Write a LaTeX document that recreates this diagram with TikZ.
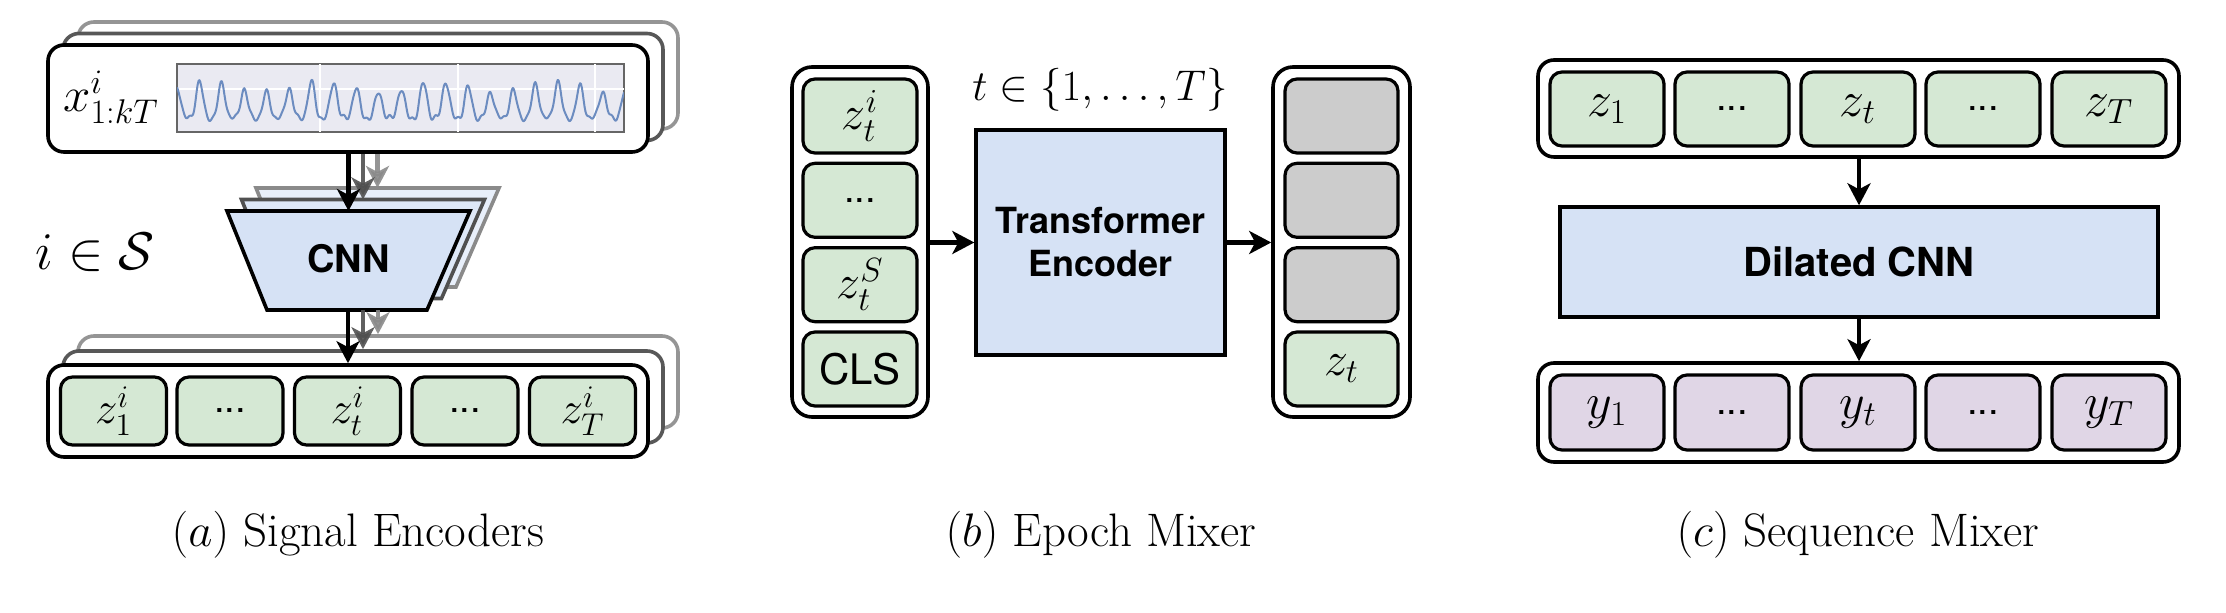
\RequirePackage{fix-cm}
\documentclass[tikz,border=0pt]{standalone}
\usepackage{fontspec}
\newfontfamily\hv{TeX Gyre Heros}
\usetikzlibrary{arrows.meta}
\definecolor{gfill}{HTML}{D5E8D4}
\definecolor{bfill}{HTML}{D6E2F5}
\definecolor{pfill}{HTML}{E0D6E6}
\definecolor{cgray}{HTML}{CCCCCC}
\definecolor{plotbg}{HTML}{EAEAF2}
\definecolor{sigblue}{HTML}{6C8CC0}
\definecolor{layA}{HTML}{505050}
\definecolor{layB}{HTML}{8A8A8A}
\begin{document}
\begin{tikzpicture}[x=0.5pt, y=-0.5pt,
  outerbox/.style={draw, line width=1.8pt, rounded corners=8pt, fill=white, inner sep=0pt},
  cellbox/.style={draw, line width=1.6pt, rounded corners=6pt, inner sep=0pt},
  arr/.style={line width=2.4pt, -{Stealth[length=11pt, width=11.5pt, inset=3pt]}},
  trapline/.style={line width=1.8pt, line join=miter},
  sfbold/.style={font=\hv\bfseries\fontsize{18}{21.5}\selectfont},
  mlab/.style={font=\fontsize{22.5}{26}\selectfont},
  mlabb/.style={font=\fontsize{24}{28}\selectfont},
  mlabc/.style={font=\fontsize{25}{29}\selectfont},
  dots/.style={font=\hv\fontsize{19}{22}\selectfont},
  capt/.style={font=\fontsize{23.5}{28}\selectfont, anchor=base}
]
\useasboundingbox (0,0) rectangle (2226,613);

% ================= (a) Signal Encoders =================
% top stack
\node[outerbox, draw=layB, draw opacity=0.9, minimum width=300pt, minimum height=53.5pt] (top3) at (378,75.5) {};
\node[outerbox, draw=layA, draw opacity=0.95, minimum width=300pt, minimum height=53.5pt] (top2) at (363,87) {};
\node[outerbox, minimum width=300pt, minimum height=53.5pt] (topF) at (348,98.5) {};
% signal plot
\node[draw=black!60, line width=0.6pt, fill=plotbg, minimum width=223.5pt, minimum height=34pt, inner sep=0pt] (plot) at (400.5,98) {};
\begin{scope}
  \clip (plot.south west) rectangle (plot.north east);
  \foreach \gx in {320,458,595} \draw[white, line width=0.7pt] (\gx,64) -- (\gx,132);
  \draw[white, line width=0.7pt] (177,89) -- (624,89);
  \draw[sigblue, line width=1pt, line join=round]
    plot[domain=0:447, samples=500]
    (177+\x, {118 - 37*(1+sin(16.07*\x+90))*(1+sin(16.07*\x+90))/4*(0.85+0.15*sin(3.1*\x)) + 1.8*sin(mod(30*\x,360)+mod(17*\x,360)) + 1.4*sin(23*\x+40)});
\end{scope}
\draw[black!60, line width=0.6pt] (plot.south west) rectangle (plot.north east);
\node[font=\fontsize{24.5}{28}\selectfont] (xlab) at (111,97) {$x^i_{1:kT}$};

% CNN layers (trapezoids)
\draw[trapline, draw=layB, fill=bfill!55] (256,188) -- (499,188) -- (456,287) -- (296,287) -- cycle;
\draw[trapline, draw=layA, fill=bfill!80] (241.5,199.5) -- (484.5,199.5) -- (441.5,298.5) -- (281.5,298.5) -- cycle;
\draw[trapline, fill=bfill] (227,211) -- (470,211) -- (427,310) -- (267,310) -- cycle;
\coordinate (cnn3N) at (377.5,188);
\coordinate (cnn2N) at (363,199.5);
\coordinate (cnnN) at (348.5,211);
\coordinate (cnnS) at (348.5,310);
\node[font=\hv\bfseries\fontsize{19}{22}\selectfont] (cnn) at (348.5,259) {CNN};

\node[font=\fontsize{26.5}{30}\selectfont] (iset) at (95,252) {$i\in\mathcal{S}$};

% bottom stack
\node[outerbox, draw=layB, draw opacity=0.9, minimum width=300pt, minimum height=46pt] (bot3) at (378,382) {};
\node[outerbox, draw=layA, draw opacity=0.95, minimum width=300pt, minimum height=46pt] (bot2) at (363,397) {};
\node[outerbox, minimum width=300pt, minimum height=46pt] (botF) at (348,411) {};
\node[cellbox, fill=gfill, minimum width=53pt, minimum height=34pt, mlab] (a1) at (113.5,411) {$z^i_1$};
\node[cellbox, fill=gfill, minimum width=53pt, minimum height=34pt, dots] (a2) at (230,411) {...};
\node[cellbox, fill=gfill, minimum width=53pt, minimum height=34pt, mlab] (a3) at (347.5,411) {$z^i_t$};
\node[cellbox, fill=gfill, minimum width=53pt, minimum height=34pt, dots] (a4) at (465,411) {...};
\node[cellbox, fill=gfill, minimum width=53pt, minimum height=34pt, mlab] (a5) at (582.5,411) {$z^i_T$};

% arrows (a)
\draw[arr, draw=layB, fill=layB, opacity=0.9] (topF.south -| cnn3N) -- (cnn3N);
\draw[arr, draw=layA, fill=layA, opacity=0.9] (topF.south -| cnn2N) -- (cnn2N);
\draw[arr] (topF.south -| cnnN) -- (cnnN);
\draw[arr, draw=layB, fill=layB, opacity=0.9] (cnnS -| bot3.north) -- (bot3.north);
\draw[arr, draw=layA, fill=layA, opacity=0.9] (cnnS -| bot2.north) -- (bot2.north);
\draw[arr] (cnnS -| botF.north) -- (botF.north);

% ================= (b) Epoch Mixer =================
\node[outerbox, rounded corners=10pt, minimum width=68pt, minimum height=175pt] (lcol) at (860,242) {};
\node[cellbox, fill=gfill, minimum width=57pt, minimum height=37pt, mlabb] (b1) at (860,116) {$z^i_t$};
\node[cellbox, fill=gfill, minimum width=57pt, minimum height=37pt, dots] (b2) at (860,200.3) {...};
\node[cellbox, fill=gfill, minimum width=57pt, minimum height=37pt, mlabb] (b3) at (860,284.7) {$z^S_t$};
\node[cellbox, fill=gfill, minimum width=57pt, minimum height=37pt, font=\hv\fontsize{21}{25}\selectfont] (b4) at (860,369) {CLS};

\node[draw, line width=1.7pt, fill=bfill, minimum width=124.5pt, minimum height=112.5pt, align=center, sfbold] (tr) at (1100.5,242.5) {Transformer\\Encoder};
\node[font=\fontsize{21.5}{25}\selectfont] (tset) at (1100,90) {$t\in\{1,\ldots,T\}$};

\node[outerbox, rounded corners=10pt, minimum width=68.5pt, minimum height=175pt] (rcol) at (1341.5,242) {};
\node[cellbox, fill=cgray, minimum width=56.5pt, minimum height=37pt] (r1) at (1341.5,116) {};
\node[cellbox, fill=cgray, minimum width=56.5pt, minimum height=37pt] (r2) at (1341.5,200.3) {};
\node[cellbox, fill=cgray, minimum width=56.5pt, minimum height=37pt] (r3) at (1341.5,284.7) {};
\node[cellbox, fill=gfill, minimum width=56.5pt, minimum height=37pt, mlabb] (r4) at (1341.5,369) {$z_t$};

\draw[arr] (lcol.east |- tr.west) -- (tr.west);
\draw[arr] (tr.east) -- (rcol.west |- tr.east);

% ================= (c) Sequence Mixer =================
\node[outerbox, minimum width=320.5pt, minimum height=48.5pt] (ctop) at (1858.5,108.5) {};
\node[cellbox, fill=gfill, minimum width=57pt, minimum height=37pt, mlabc] (c1) at (1607,109) {$z_1$};
\node[cellbox, fill=gfill, minimum width=57pt, minimum height=37pt, dots] (c2) at (1732,109) {...};
\node[cellbox, fill=gfill, minimum width=57pt, minimum height=37pt, mlabc] (c3) at (1858,109) {$z_t$};
\node[cellbox, fill=gfill, minimum width=57pt, minimum height=37pt, dots] (c4) at (1983,109) {...};
\node[cellbox, fill=gfill, minimum width=57pt, minimum height=37pt, mlabc] (c5) at (2109,109) {$z_T$};

\node[draw, line width=1.7pt, fill=bfill, minimum width=299pt, minimum height=55pt, font=\hv\bfseries\fontsize{20}{24}\selectfont] (dil) at (1859,262) {Dilated CNN};

\node[outerbox, minimum width=320.5pt, minimum height=49.5pt] (cbot) at (1858.5,412.5) {};
\node[cellbox, fill=pfill, minimum width=57pt, minimum height=37.5pt, mlabc] (d1) at (1607,412.5) {$y_1$};
\node[cellbox, fill=pfill, minimum width=57pt, minimum height=37.5pt, dots] (d2) at (1732,412.5) {...};
\node[cellbox, fill=pfill, minimum width=57pt, minimum height=37.5pt, mlabc] (d3) at (1858,412.5) {$y_t$};
\node[cellbox, fill=pfill, minimum width=57pt, minimum height=37.5pt, dots] (d4) at (1983,412.5) {...};
\node[cellbox, fill=pfill, minimum width=57pt, minimum height=37.5pt, mlabc] (d5) at (2109,412.5) {$y_T$};

\draw[arr] (ctop.south -| dil.north) -- (dil.north);
\draw[arr] (dil.south) -- (cbot.north -| dil.south);

% ================= captions =================
\node[capt] (capa) at (358,547) {$(a)$ Signal Encoders};
\node[capt] (capb) at (1101,547) {$(b)$ Epoch Mixer};
\node[capt] (capc) at (1858,547) {$(c)$ Sequence Mixer};
\end{tikzpicture}
\end{document}
